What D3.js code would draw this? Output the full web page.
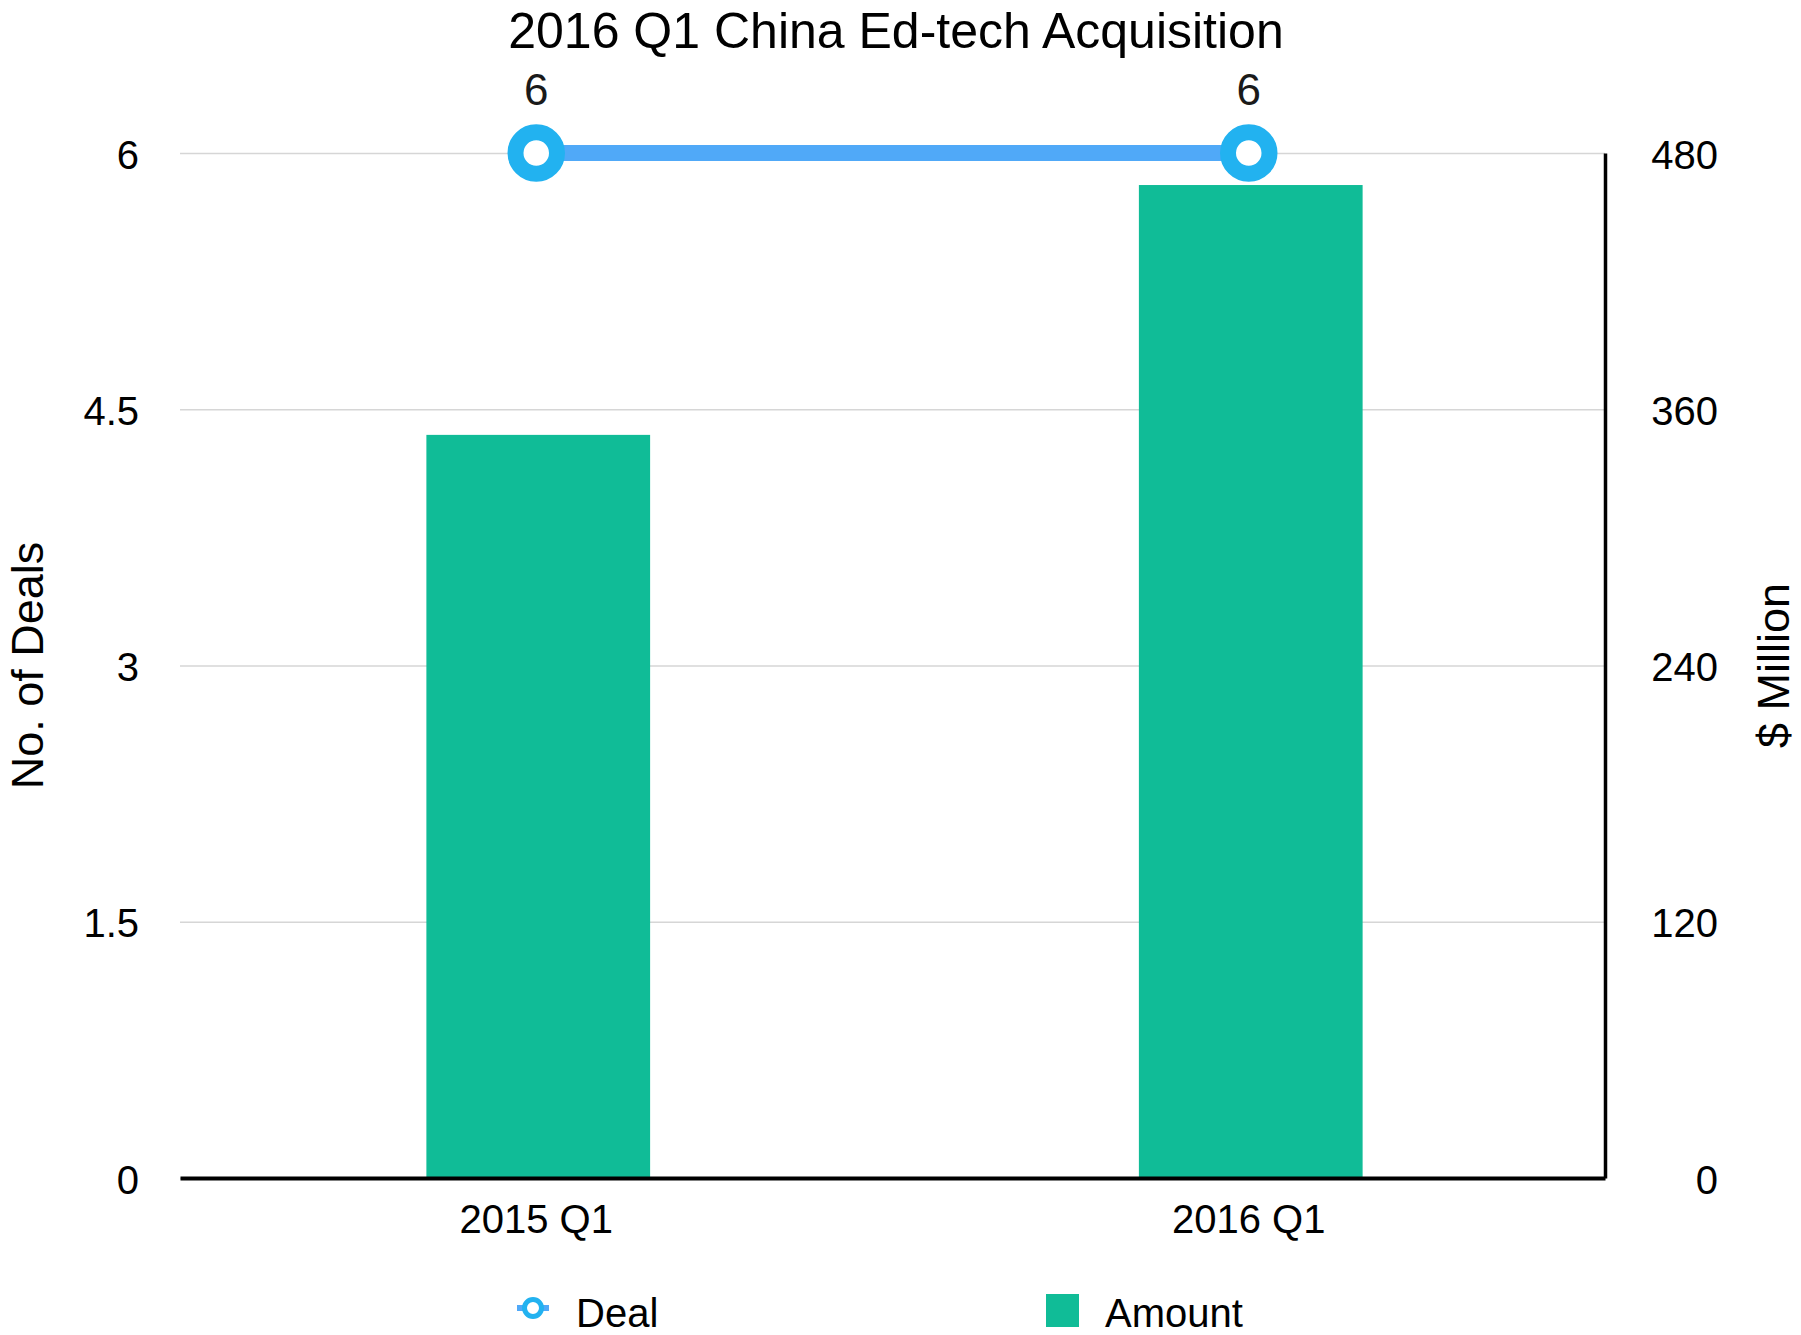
<!DOCTYPE html>
<html>
<head>
<meta charset="utf-8">
<script src="https://cdn.jsdelivr.net/npm/d3@7"></script>
<style>
  body { margin: 0; background: #fff; }
  text { font-family: "Liberation Sans", Arial, Helvetica, sans-serif; }
</style>
</head>
<body>
<div id="chart"></div>
<script>
// chart values
const quarters = ["2015 Q1", "2016 Q1"];
const deals = [6, 6];          // No. of Deals (left axis)
const amounts = [348, 465];    // $ Million (right axis)
const dealTicks = [0, 1.5, 3, 4.5, 6];
const amountTicks = [0, 120, 240, 360, 480];

const colorLine = "#50a9f8",
  colorMarker = "#22b2f0",
  colorBar = "#10bc97";

const margin = { top: 153, right: 196, bottom: 157, left: 180 },
  width = 1801 - margin.left - margin.right,
  height = 1335 - margin.top - margin.bottom;

const svg = d3.select("#chart")
  .append("svg")
  .attr("width", width + margin.left + margin.right)
  .attr("height", height + margin.top + margin.bottom)
  .append("g")
  .attr("transform", `translate(${margin.left}, ${margin.top})`);

const x = d3.scaleBand()
  .domain(quarters)
  .range([0, width])
  .paddingInner(0.686)
  .paddingOuter(0.343);

const yLeft = d3.scaleLinear()
  .domain([0, 6])
  .range([height, 0]);

const yRight = d3.scaleLinear()
  .domain([0, 480])
  .range([height, 0]);

// gridlines
svg.append("g")
  .call(d3.axisLeft(yLeft).tickValues(dealTicks).tickSize(-width).tickFormat(""))
  .call(g => g.select(".domain").remove())
  .selectAll("line")
  .attr("stroke", "#d6d6d6")
  .attr("stroke-width", 1.5);

// left axis labels
svg.append("g")
  .call(d3.axisLeft(yLeft).tickValues(dealTicks).tickFormat(d => d).tickSize(0).tickPadding(41))
  .call(g => g.select(".domain").remove())
  .selectAll("text")
  .attr("dy", "0.38em")
  .style("font-size", "40px")
  .style("fill", "#000");

// bars
svg.selectAll("rect.bar")
  .data(quarters)
  .enter()
  .append("rect")
  .attr("class", "bar")
  .attr("x", d => x(d) + 2)
  .attr("y", (d, i) => yRight(amounts[i]))
  .attr("width", x.bandwidth())
  .attr("height", (d, i) => height - yRight(amounts[i]))
  .attr("fill", colorBar);

// bottom axis
svg.append("g")
  .attr("transform", `translate(0, ${height})`)
  .call(d3.axisBottom(x).tickSize(0).tickSizeOuter(0).tickPadding(27))
  .call(g => g.select(".domain").attr("stroke", "#000").attr("stroke-width", 4))
  .selectAll("text")
  .style("font-size", "40px")
  .style("fill", "#000");

// right axis
svg.append("g")
  .attr("transform", `translate(${width}, 0)`)
  .call(d3.axisRight(yRight).tickValues(amountTicks).tickSize(0).tickSizeOuter(0).tickPadding(113))
  .call(g => g.select(".domain").attr("stroke", "#000").attr("stroke-width", 3.5))
  .selectAll("text")
  .attr("text-anchor", "end")
  .attr("dy", "0.38em")
  .style("font-size", "40px")
  .style("fill", "#000");

// deal line + markers
const cx = d => x(d) + x.bandwidth() / 2;

svg.append("path")
  .datum(quarters)
  .attr("fill", "none")
  .attr("stroke", colorLine)
  .attr("stroke-width", 16)
  .attr("d", d3.line().x(cx).y((d, i) => yLeft(deals[i])));

svg.selectAll("circle.deal")
  .data(quarters)
  .enter()
  .append("circle")
  .attr("class", "deal")
  .attr("cx", cx)
  .attr("cy", (d, i) => yLeft(deals[i]))
  .attr("r", 20.75)
  .attr("fill", "#fff")
  .attr("stroke", colorMarker)
  .attr("stroke-width", 16);

svg.selectAll("text.deal-label")
  .data(quarters)
  .enter()
  .append("text")
  .attr("class", "deal-label")
  .attr("x", cx)
  .attr("y", (d, i) => yLeft(deals[i]) - 48)
  .attr("text-anchor", "middle")
  .style("font-size", "44px")
  .style("fill", "#1a1a1a")
  .text((d, i) => deals[i]);

// title
svg.append("text")
  .attr("x", 896 - margin.left)
  .attr("y", 48 - margin.top)
  .attr("text-anchor", "middle")
  .style("font-size", "50px")
  .style("fill", "#000")
  .text("2016 Q1 China Ed-tech Acquisition");

// axis titles
svg.append("text")
  .attr("transform", `translate(${43 - margin.left}, ${height / 2}) rotate(-90)`)
  .attr("text-anchor", "middle")
  .style("font-size", "45px")
  .style("fill", "#000")
  .text("No. of Deals");

svg.append("text")
  .attr("transform", `translate(${1789 - margin.left}, ${height / 2}) rotate(-90)`)
  .attr("text-anchor", "middle")
  .style("font-size", "45px")
  .style("fill", "#000")
  .text("$ Million");

// legend
const legend = svg.append("g")
  .attr("transform", `translate(0, ${1308 - margin.top})`);

legend.append("line")
  .attr("x1", 517 - margin.left)
  .attr("x2", 549 - margin.left)
  .attr("stroke", colorLine)
  .attr("stroke-width", 6);

legend.append("circle")
  .attr("cx", 533 - margin.left)
  .attr("r", 8.5)
  .attr("fill", "#fff")
  .attr("stroke", colorMarker)
  .attr("stroke-width", 5);

legend.append("text")
  .attr("x", 576 - margin.left)
  .attr("y", 19)
  .style("font-size", "40px")
  .style("fill", "#000")
  .text("Deal");

legend.append("rect")
  .attr("x", 1046 - margin.left)
  .attr("y", -14)
  .attr("width", 33)
  .attr("height", 33)
  .attr("fill", colorBar);

legend.append("text")
  .attr("x", 1105 - margin.left)
  .attr("y", 19)
  .style("font-size", "40px")
  .style("fill", "#000")
  .text("Amount");
</script>
</body>
</html>
